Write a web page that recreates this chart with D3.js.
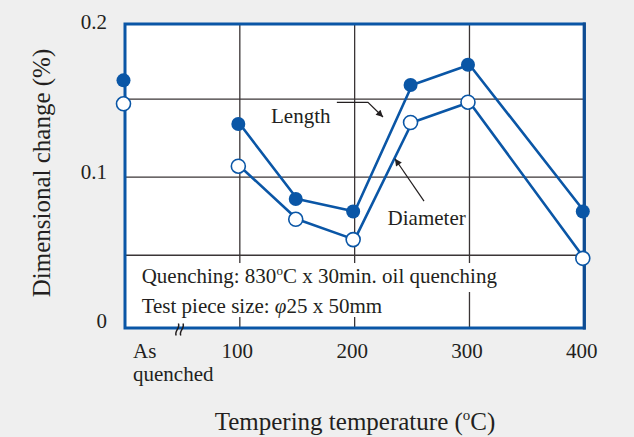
<!DOCTYPE html>
<html><head><meta charset="utf-8">
<script src="https://cdn.jsdelivr.net/npm/d3@7/dist/d3.min.js"></script>
<style>
html,body{margin:0;padding:0;background:#efefef;}
svg{display:block;}
text{font-family:"Liberation Serif","Times New Roman",serif;fill:#231f20;}
</style></head>
<body>
<svg id="chart" width="634" height="437"></svg>
<script>
// ---- data ----
const categories = ["As quenched", 100, 150, 200, 250, 300, 400];
const temps = [0, 100, 150, 200, 250, 300, 400];          // x position (As quenched at axis origin)
const lengthChange   = [0.162, 0.134, 0.086, 0.078, 0.159, 0.172, 0.078];
const diameterChange = [0.147, 0.107, 0.073, 0.060, 0.135, 0.148, 0.048];
const xTickValues = [100, 200, 300, 400];
const xTickLabels = ["100", "200", "300", "400"];
const yTickValues = [0, 0.1, 0.2];
const yTickLabels = ["0", "0.1", "0.2"];
const gridX = [100, 200, 300];
const gridY = [0.05, 0.1, 0.15];

const BLUE = "#0a56a6";
const svg = d3.select("#chart");

const x = d3.scaleLinear().domain([0, 400]).range([125, 584.3]);
const y = d3.scaleLinear().domain([0, 0.2]).range([333.3, 21]);      // data & grid
const yFrame = d3.scaleLinear().domain([0, 0.2]).range([328, 24]);   // plot frame
const yLab = d3.scaleLinear().domain([0, 0.2]).range([321, 22]);     // tick label placement

// plot area
svg.append("rect")
  .attr("x", x(0)).attr("y", yFrame(0.2))
  .attr("width", x(400) - x(0)).attr("height", yFrame(0) - yFrame(0.2))
  .attr("fill", "#fff");

// grid
const grid = svg.append("g").attr("stroke", "#3a3536").attr("stroke-width", 1.3);
grid.selectAll(".gx").data(gridX).join("line")
  .attr("x1", d => x(d)).attr("x2", d => x(d))
  .attr("y1", yFrame(0.2)).attr("y2", yFrame(0));
grid.selectAll(".gy").data(gridY).join("line")
  .attr("x1", x(0)).attr("x2", x(400))
  .attr("y1", d => y(d)).attr("y2", d => y(d));

// notes with white backgrounds
const notes = svg.append("g");
const n1 = notes.append("text").attr("x", x(14.5)).attr("y", y(0.0322)).attr("font-size", 21);
n1.append("tspan").text("Quenching: 830");
n1.append("tspan").attr("font-size", 13).attr("dy", -8).text("o");
n1.append("tspan").attr("dy", 8).text("C x 30min. oil quenching");
const n2 = notes.append("text").attr("x", x(14.5)).attr("y", y(0.013)).attr("font-size", 21);
n2.append("tspan").text("Test piece size: ");
n2.append("tspan").attr("font-style", "italic").text("φ");
n2.append("tspan").text("25 x 50mm");
[[n1, -20, 9], [n2, -21, 4]].forEach(([t, top, bot]) => {
  const b = t.node().getBBox();
  const base = +t.attr("y");
  notes.insert("rect", "text")
    .attr("x", b.x - 3).attr("y", base + top).attr("width", b.width + 6).attr("height", bot - top)
    .attr("fill", "#fff");
});

// frame
svg.append("rect")
  .attr("x", x(0)).attr("y", yFrame(0.2))
  .attr("width", x(400) - x(0)).attr("height", yFrame(0) - yFrame(0.2))
  .attr("fill", "none").attr("stroke", BLUE).attr("stroke-width", 3);
svg.append("line")
  .attr("x1", x(400)).attr("x2", x(400)).attr("y1", yFrame(0.2) - 1.5).attr("y2", yFrame(0) + 1.5)
  .attr("stroke", "#0f4c92").attr("stroke-width", 3);

// axis break mark
const brk = svg.append("g").attr("transform", `translate(${x(48.5)},${yFrame(0) + 1.5})`)
  .attr("fill", "none").attr("stroke", "#231f20").attr("stroke-width", 1.5);
[-2.3, 2.3].forEach(dx => {
  brk.append("path").attr("d", `M${dx - 2.2},6 C${dx - 4.5},2 ${dx + 2.2},-1.5 ${dx},-6`);
});

// axes labels (tick text)
const xAxis = svg.append("g").attr("transform", `translate(0,${yFrame(0)})`)
  .call(d3.axisBottom(x).tickValues(xTickValues).tickFormat((d, i) => xTickLabels[i]).tickSize(0).tickPadding(0));
xAxis.select(".domain").remove();
xAxis.selectAll("text").attr("font-family", "Liberation Serif").attr("font-size", 21)
  .attr("fill", "#231f20").attr("dx", -3).attr("dy", 0).attr("y", 29.5);

const yAxis = svg.append("g").attr("transform", `translate(${x(0)},0)`)
  .call(d3.axisLeft(yLab).tickValues(yTickValues).tickFormat((d, i) => yTickLabels[i]).tickSize(0).tickPadding(18));
yAxis.select(".domain").remove();
yAxis.selectAll("text").attr("font-family", "Liberation Serif").attr("font-size", 21).attr("fill", "#231f20");

// "As quenched" category label
const aq = svg.append("text").attr("font-size", 21).attr("x", x(0) + 8);
aq.append("tspan").attr("x", x(0) + 8).attr("y", yFrame(0) + 29.5).text("As");
aq.append("tspan").attr("x", x(0) + 8).attr("y", yFrame(0) + 53).text("quenched");

// axis titles
const xt = svg.append("text").attr("x", 355).attr("y", 430).attr("text-anchor", "middle").attr("font-size", 25);
xt.append("tspan").text("Tempering temperature (");
xt.append("tspan").attr("font-size", 15).attr("dy", -10).text("o");
xt.append("tspan").attr("dy", 10).text("C)");
svg.append("text").attr("transform", "translate(50,173) rotate(-90)")
  .attr("text-anchor", "middle").attr("font-size", 25).text("Dimensional change (%)");

// series lines (tempered points only)
const line = d3.line().x(d => x(d[0])).y(d => y(d[1]));
const series = [
  {name: "Length", vals: lengthChange, filled: true},
  {name: "Diameter", vals: diameterChange, filled: false}
];
series.forEach(s => {
  const pts = temps.map((t, i) => [t, s.vals[i]]);
  svg.append("path").datum(pts.slice(1)).attr("d", line)
    .attr("fill", "none").attr("stroke", BLUE).attr("stroke-width", 2.6).attr("stroke-linejoin", "round");
});
series.forEach(s => {
  const pts = temps.map((t, i) => [t, s.vals[i]]);
  svg.append("g").selectAll("circle").data(pts).join("circle")
    .attr("cx", d => x(d[0]) - 1.5).attr("cy", d => y(d[1])).attr("r", 7)
    .attr("fill", s.filled ? BLUE : "#fff")
    .attr("stroke", BLUE).attr("stroke-width", s.filled ? 0 : 1.6);
});

// annotations
svg.append("defs").append("marker").attr("id", "arr").attr("viewBox", "0 0 10 10")
  .attr("refX", 10).attr("refY", 5).attr("markerWidth", 9).attr("markerHeight", 7)
  .attr("markerUnits", "userSpaceOnUse").attr("orient", "auto")
  .append("path").attr("d", "M0,0 L10,5 L0,10 Z").attr("fill", "#231f20");

svg.append("text").attr("x", x(179)).attr("y", y(0.1345)).attr("text-anchor", "end").attr("font-size", 21).text("Length");
svg.append("path")
  .attr("d", d3.line()([[x(184.5), y(0.1479)], [x(211.6), y(0.1479)], [x(224.7), y(0.1385)]]))
  .attr("fill", "none").attr("stroke", "#231f20").attr("stroke-width", 1.2).attr("marker-end", "url(#arr)");

svg.append("text").attr("x", x(262.7)).attr("y", y(0.0694)).attr("text-anchor", "middle").attr("font-size", 21).text("Diameter");
svg.append("path")
  .attr("d", d3.line()([[x(260.4), y(0.0847)], [x(235.1), y(0.1118)]]))
  .attr("fill", "none").attr("stroke", "#231f20").attr("stroke-width", 1.2).attr("marker-end", "url(#arr)");
</script>
</body></html>
